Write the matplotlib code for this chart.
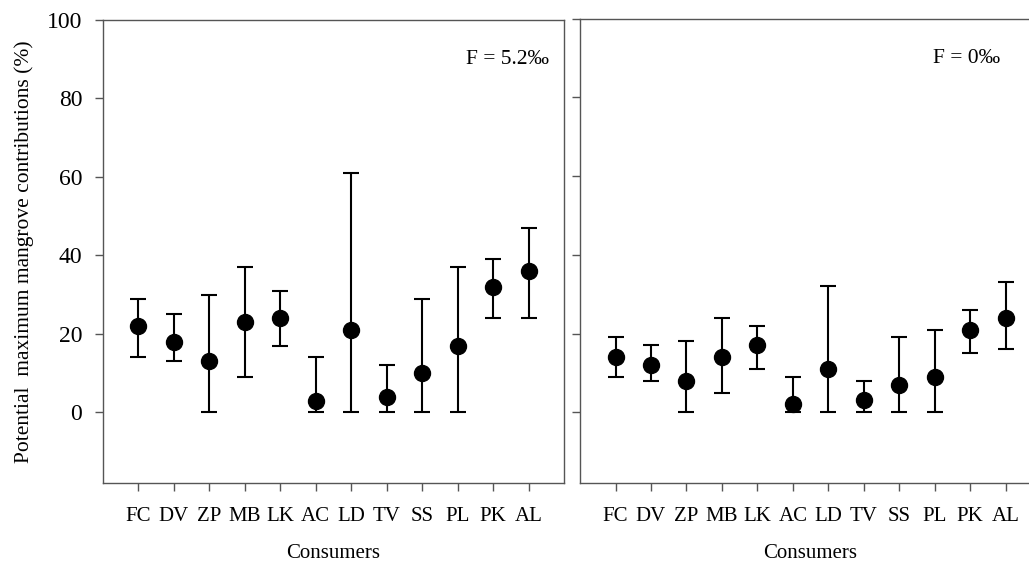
import matplotlib as mpl

mpl.use("Agg")

import matplotlib.pyplot as plt
import numpy as np

consumers = ["FC", "DV", "ZP", "MB", "LK", "AC", "LD", "TV", "SS", "PL", "PK", "AL"]

# F = 5.2 permil
mean_f52 = [22, 18, 13, 23, 24, 3, 21, 4, 10, 17, 32, 36]
upper_f52 = [29, 25, 30, 37, 31, 14, 61, 12, 29, 37, 39, 47]
lower_f52 = [14, 13, 0, 9, 17, 0, 0, 0, 0, 0, 24, 24]

# F = 0 permil
mean_f0 = [14, 12, 8, 14, 17, 2, 11, 3, 7, 9, 21, 24]
upper_f0 = [19, 17, 18, 24, 22, 9, 32, 8, 19, 21, 26, 33]
lower_f0 = [9, 8, 0, 5, 11, 0, 0, 0, 0, 0, 15, 16]

yticks = [0, 20, 40, 60, 80, 100]

plt.rcParams["font.family"] = ["Liberation Serif", "DejaVu Serif"]

fig = plt.figure(figsize=(10.29, 5.63), dpi=100)
ax_left = fig.add_axes([0.1001, 0.1421, 0.448, 0.8224])
ax_right = fig.add_axes([0.5637, 0.1421, 0.448, 0.8245])

panels = [
    (ax_left, mean_f52, upper_f52, lower_f52, "F = 5.2‰", 11.4, True),
    (ax_right, mean_f0, upper_f0, lower_f0, "F = 0‰", 10.9, False),
]

x = np.arange(1, len(consumers) + 1)
for ax, mean, upper, lower, label, label_x, show_y in panels:
    mean = np.array(mean)
    yerr = np.vstack([mean - np.array(lower), np.array(upper) - mean])
    ax.errorbar(x, mean, yerr=yerr, fmt="o", color="black", markersize=11.5,
                elinewidth=1.5, capsize=5.5, capthick=1.5)
    ax.set_xlim(0, 13)
    ax.set_ylim(-18, 100)
    ax.set_xticks(x)
    ax.set_xticklabels(consumers, fontsize=15)
    ax.set_yticks(yticks)
    ax.tick_params(direction="out", length=6, width=1, color="#555555")
    ax.tick_params(axis="x", pad=11)
    ax.tick_params(axis="y", pad=9)
    if show_y:
        ax.set_yticklabels([str(v) for v in yticks], fontsize=17)
        ax.set_ylabel("Potential  maximum mangrove contributions (%)", fontsize=15.5, labelpad=9)
    else:
        ax.set_yticklabels([])
    ax.set_xlabel("Consumers", fontsize=15, labelpad=13)
    for spine in ax.spines.values():
        spine.set_color("#555555")
        spine.set_linewidth(1)
    ax.text(label_x, 90, label, fontsize=15.5, ha="center", va="center")

fig.savefig("out.png", dpi=100)
